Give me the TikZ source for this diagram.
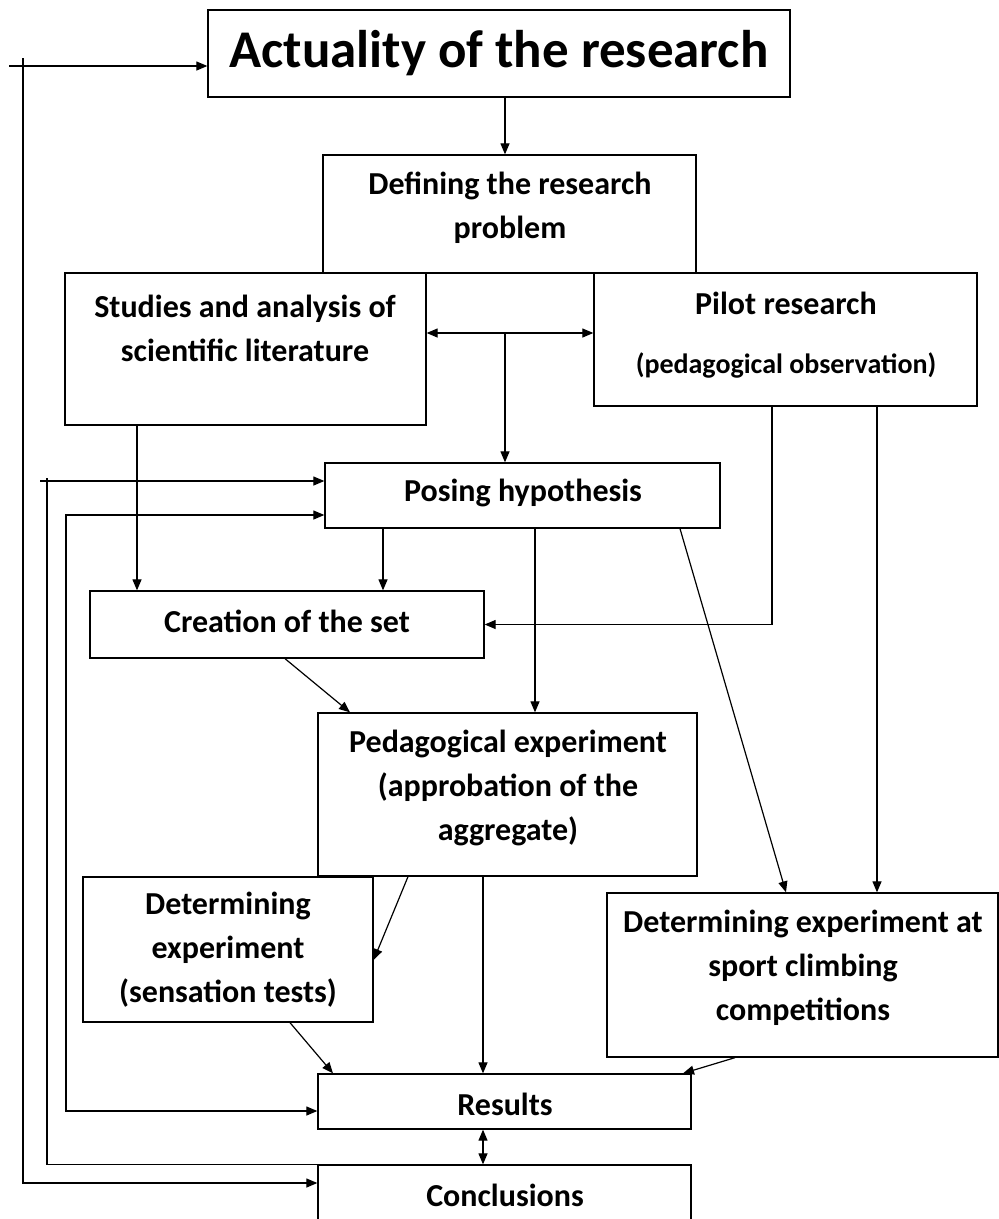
\documentclass[tikz,border=0pt]{standalone}
\usepackage{fontspec}
\setmainfont{Carlito}
\usetikzlibrary{arrows.meta}
\begin{document}
\begin{tikzpicture}[x=1pt,y=-1pt,
  box/.style={draw, line width=1.3pt, inner sep=0pt},
  txt/.style={align=center, inner sep=0pt, font=\fontsize{32}{44}\selectfont\bfseries},
  arr/.style={line width=1.2pt, -{Triangle[length=11pt,width=9pt]}},
  darr/.style={line width=1.2pt, {Triangle[length=11pt,width=9pt]}-{Triangle[length=11pt,width=9pt]}},
  ln/.style={line width=1.2pt}]
\useasboundingbox (0,0) rectangle (999,1219);
% boxes
\node[box, minimum width=582pt, minimum height=87pt] (act) at (499,53.5) {};
\node[box, minimum width=373pt, minimum height=118pt] (def) at (509.5,214) {};
\node[box, minimum width=361pt, minimum height=152pt] (stu) at (245.5,349) {};
\node[box, minimum width=383pt, minimum height=133pt] (pil) at (785.5,339.5) {};
\node[box, minimum width=395pt, minimum height=65pt] (pos) at (522.5,495.5) {};
\node[box, minimum width=394pt, minimum height=67pt] (cre) at (287,624.5) {};
\node[box, minimum width=379pt, minimum height=163pt] (ped) at (507.5,794.5) {};
\node[box, minimum width=290pt, minimum height=145pt] (dl) at (228,949.5) {};
\node[box, minimum width=391pt, minimum height=164pt] (dr) at (802.5,975) {};
\node[box, minimum width=373pt, minimum height=55pt] (res) at (504.5,1101.5) {};
\node[box, minimum width=373pt, minimum height=58pt] (con) at (504.5,1194) {};
% texts
\node[txt, font=\fontsize{53}{60}\selectfont\bfseries] (act-t) at (499,53) {Actuality of the research};
\node[txt] (def-t) at (510,207.5) {Defining the research\\problem};
\node[txt] (stu-t) at (245,328) {Studies and analysis of\\scientific literature};
\node[txt] (pil-t1) at (786,303) {Pilot research};
\node[txt, font=\fontsize{28}{32}\selectfont\bfseries] (pil-t2) at (786,365) {(pedagogical observation)};
\node[txt] (pos-t) at (523,493) {Posing hypothesis};
\node[txt] (cre-t) at (287,621) {Creation of the set};
\node[txt] (ped-t) at (508,788) {Pedagogical experiment\\(approbation of the\\aggregate)};
\node[txt] (dl-t) at (228,950) {Determining\\experiment\\(sensation tests)};
\node[txt] (dr-t) at (803,968) {Determining experiment at\\sport climbing\\competitions};
\node[txt] (res-t) at (505,1104) {Results};
\node[txt] (con-t) at (505,1195) {Conclusions};
% helper coordinates
\coordinate (x10) at (9,0);
\coordinate (x24) at (23,0);
\coordinate (x40) at (40,0);
\coordinate (x47) at (47,0);
\coordinate (x66) at (66,0);
\coordinate (x137) at (137,0);
\coordinate (x285) at (285,0);
\coordinate (x290) at (290,0);
\coordinate (x333) at (333,0);
\coordinate (x350) at (350,0);
\coordinate (x383) at (383,0);
\coordinate (x408) at (408,0);
\coordinate (x483) at (483,0);
\coordinate (x505) at (505,0);
\coordinate (x535) at (535,0);
\coordinate (x680) at (680,0);
\coordinate (x683) at (683,0);
\coordinate (x735) at (735,0);
\coordinate (x772) at (772,0);
\coordinate (x786) at (786,0);
\coordinate (x877) at (877,0);
\coordinate (y58) at (0,58);
\coordinate (y66) at (0,66);
\coordinate (y333) at (0,333);
\coordinate (y478) at (0,478);
\coordinate (y481) at (0,481);
\coordinate (y515) at (0,515);
\coordinate (y960) at (0,960);
\coordinate (y1111) at (0,1111);
\coordinate (y1183) at (0,1183);
% connectors
\draw[arr] (x505 |- act.south) -- (x505 |- def.north);
\draw[darr] (y333 -| stu.east) -- (y333 -| pil.west);
\draw[arr] (x505 |- y333) -- (x505 |- pos.north);
\draw[arr] (x137 |- stu.south) -- (x137 |- cre.north);
\draw[arr] (x383 |- pos.south) -- (x383 |- cre.north);
\draw[arr] (x535 |- pos.south) -- (x535 |- ped.north);
\draw[arr] (x680 |- pos.south) -- (x786 |- dr.north);
\draw[arr] (x772 |- pil.south) |- (cre.east);
\draw[arr] (x877 |- pil.south) -- (x877 |- dr.north);
\draw[arr] (x285 |- cre.south) -- (x350 |- ped.north);
\draw[arr] (x408 |- ped.south) -- (y960 -| dl.east);
\draw[arr] (x483 |- ped.south) -- (x483 |- res.north);
\draw[arr] (x290 |- dl.south) -- (x333 |- res.north);
\draw[arr] (x735 |- dr.south) -- (x683 |- res.north);
\draw[darr] (x483 |- res.south) -- (x483 |- con.north);
% feedback loops
\draw[arr] (x10 |- y66) -- (y66 -| act.west);
\draw[arr] (x24 |- y58) |- (y1183 -| con.west);
\draw[arr] (x40 |- y481) -- (y481 -| pos.west);
\draw[ln] (con.north west) -| (x47 |- y478);
\draw[darr] (y1111 -| res.west) -| (x66 |- y515) -- (y515 -| pos.west);
\end{tikzpicture}
\end{document}
